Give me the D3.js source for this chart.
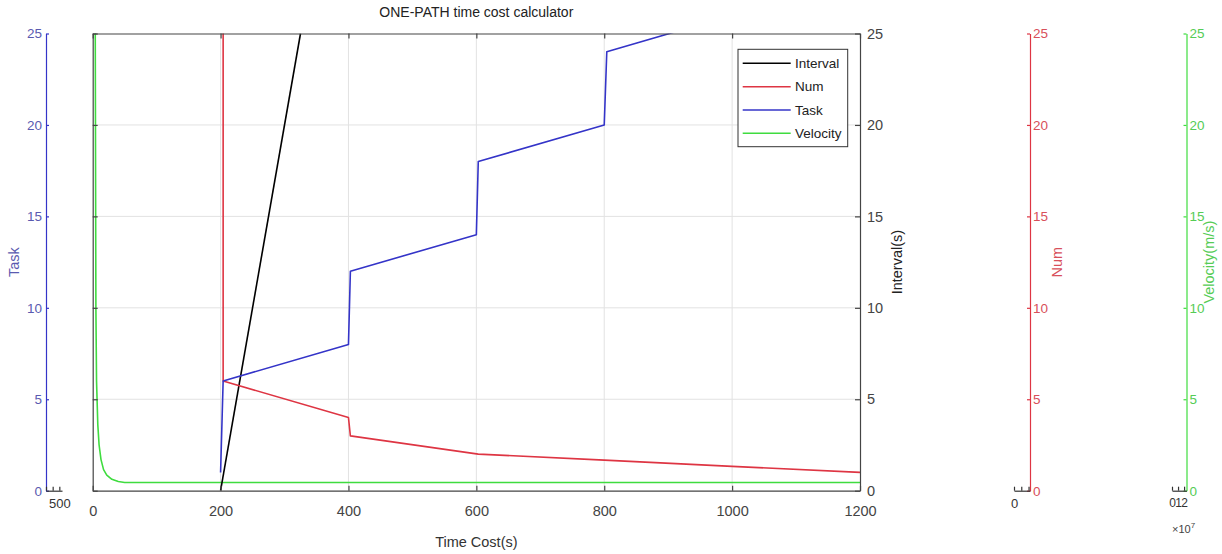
<!DOCTYPE html>
<html>
<head>
<meta charset="utf-8">
<script src="https://cdn.jsdelivr.net/npm/d3@7"></script>
<style>
  html, body { margin: 0; padding: 0; background: #fff; }
  svg { display: block; font-family: "Liberation Sans", Arial, sans-serif; }
</style>
</head>
<body>
<svg id="chart" width="1222" height="554"></svg>
<script>
// ---- data ----
const timeTicks = [0, 200, 400, 600, 800, 1000, 1200];
const valueTicks = [0, 5, 10, 15, 20, 25];

const intervalTime = [200, 325];
const intervalVal  = [0, 25];

const numTime = [204, 204, 400, 403, 603, 800, 1000, 1200];
const numVal  = [40, 6, 4, 3, 2, 1.67, 1.33, 1];

const taskTime = [200, 204, 400, 403, 600, 603, 800, 804, 1000];
const taskVal  = [1, 6, 8, 12, 14, 18, 20, 24, 26];

const velTime = [3, 4, 5, 6, 8, 10, 13, 17, 22, 30, 40, 50, 1200];
const velVal  = [40, 25, 10, 6, 3.6, 2.5, 1.7, 1.15, 0.85, 0.62, 0.5, 0.45, 0.45];

const seriesNames  = ["Interval", "Num", "Task", "Velocity"];
const seriesColors = ["#000000", "#de3543", "#3434c8", "#3fdc3f"];

// ---- layout ----
const svg = d3.select("#chart");
const L = 92.7, R = 860, T = 33.5, B = 490.7;
const x = d3.scaleLinear().domain([0, 1200]).range([L, R]);
const y = d3.scaleLinear().domain([0, 25]).range([B, T]);

const fs = 14.5;

// grid
const grid = svg.append("g");
grid.selectAll("line.gx").data(timeTicks.slice(1, -1)).join("line")
  .attr("x1", d => x(d)).attr("x2", d => x(d)).attr("y1", T).attr("y2", B)
  .attr("stroke", "#e2e2e2").attr("stroke-width", 1);
grid.selectAll("line.gy").data(valueTicks.slice(1, -1)).join("line")
  .attr("x1", L).attr("x2", R).attr("y1", d => y(d)).attr("y2", d => y(d))
  .attr("stroke", "#e2e2e2").attr("stroke-width", 1);

// clipped series
svg.append("clipPath").attr("id", "plotClip")
  .append("rect").attr("x", L).attr("y", T).attr("width", R - L).attr("height", B - T);

const line = d3.line().x(d => x(d[0])).y(d => y(d[1]));
const plot = svg.append("g").attr("clip-path", "url(#plotClip)");
const series = [
  d3.zip(intervalTime, intervalVal),
  d3.zip(numTime, numVal),
  d3.zip(taskTime, taskVal),
  d3.zip(velTime, velVal)
];
// draw order: green underneath
[3, 0, 1, 2].forEach(i => {
  plot.append("path").attr("d", line(series[i]))
    .attr("fill", "none").attr("stroke", seriesColors[i]).attr("stroke-width", 1.6)
    .attr("stroke-linejoin", "round");
});

// ---- main axes ----
const axisStyle = (g, col) => {
  g.select(".domain").attr("stroke", col).attr("stroke-width", 1.2);
  g.selectAll(".tick line").attr("stroke", col).attr("stroke-width", 1.2);
  g.selectAll(".tick text").attr("fill", col).attr("font-size", fs).attr("font-family", "Liberation Sans, Arial, sans-serif");
};

const xb = svg.append("g").attr("transform", `translate(0,${B})`)
  .call(d3.axisBottom(x).tickValues(timeTicks).tickFormat(d3.format("d"))
    .tickSize(-5).tickSizeOuter(0).tickPadding(15));
axisStyle(xb, "#444");

const xt = svg.append("g").attr("transform", `translate(0,${T})`)
  .call(d3.axisTop(x).tickValues(timeTicks).tickSize(-5).tickSizeOuter(0).tickFormat(""));
axisStyle(xt, "#444");

const yl = svg.append("g").attr("transform", `translate(${L},0)`)
  .call(d3.axisLeft(y).tickValues(valueTicks).tickSize(-5).tickSizeOuter(0).tickFormat(""));
axisStyle(yl, "#444");

const yr = svg.append("g").attr("transform", `translate(${R},0)`)
  .call(d3.axisRight(y).tickValues(valueTicks).tickSize(-5).tickSizeOuter(0).tickPadding(7));
axisStyle(yr, "#444");

svg.append("text").attr("x", (L + R) / 2).attr("y", 547).attr("text-anchor", "middle")
  .attr("font-size", fs).attr("fill", "#333").text("Time Cost(s)");
svg.append("text").attr("transform", `translate(902,${(T + B) / 2}) rotate(-90)`)
  .attr("text-anchor", "middle").attr("font-size", fs).attr("fill", "#222").text("Interval(s)");
svg.append("text").attr("x", (L + R) / 2).attr("y", 17).attr("text-anchor", "middle")
  .attr("font-size", 14).attr("fill", "#222").text("ONE-PATH time cost calculator");

// ---- offset axes (Task, Num, Velocity) ----
function offsetAxis(xPos, side, col, textCol, label, labelX, miniDomain, miniTicks, miniFmt, miniX0, miniX1) {
  const g = svg.append("g").attr("transform", `translate(${xPos},0)`);
  const ax = side === "left"
    ? d3.axisLeft(y).tickValues(valueTicks).tickSize(-3).tickSizeOuter(0).tickPadding(4)
    : d3.axisRight(y).tickValues(valueTicks).tickSize(-3).tickSizeOuter(0).tickPadding(3);
  g.call(ax);
  axisStyle(g, col);
  g.selectAll(".tick text").attr("fill", textCol).attr("font-size", 13.5);
  svg.append("text").attr("transform", `translate(${labelX},${(T + B) / 2}) rotate(-90)`)
    .attr("text-anchor", "middle").attr("font-size", fs).attr("fill", textCol).text(label);
  // small companion x axis at the foot
  const mx = d3.scaleLinear().domain(miniDomain).range([miniX0, miniX1]);
  const mg = svg.append("g").attr("transform", `translate(0,${B})`)
    .call(d3.axisBottom(mx).tickValues(miniTicks).tickSize(-4).tickSizeOuter(0).tickPadding(8).tickFormat(miniFmt));
  axisStyle(mg, "#333");
  mg.selectAll(".tick text").attr("font-size", 13);
  return mg;
}

offsetAxis(46, "left", "#3434c8", "#5a5ab0", "Task", 19,
  [0, 600], [0, 250, 500], d => d === 500 ? "500" : "", 46, 62);
offsetAxis(1030, "right", "#de3543", "#d8505a", "Num", 1062,
  [0, 2.2], [0, 1, 2], d => d === 0 ? "0" : "", 1014, 1030);
const vg = offsetAxis(1186.5, "right", "#3fdc3f", "#55cc55", "Velocity(m/s)", 1214,
  [0, 2.4e7], [0, 1e7, 2e7], d => String(d / 1e7), 1172, 1186.5);
vg.selectAll(".tick text").attr("font-size", 12);
const expo = svg.append("text").attr("x", 1172).attr("y", 533).attr("font-size", 11).attr("fill", "#444");
expo.append("tspan").text("×10");
expo.append("tspan").attr("dy", -5).attr("font-size", 8).text("7");

// ---- legend ----
const lg = svg.append("g");
lg.append("rect").attr("x", 738).attr("y", 49.3).attr("width", 109.7).attr("height", 97.4)
  .attr("fill", "#fff").attr("stroke", "#333").attr("stroke-width", 1);
const ly = [63.3, 86.7, 110, 133.3];
seriesNames.forEach((n, i) => {
  lg.append("line").attr("x1", 742.7).attr("x2", 790.7).attr("y1", ly[i]).attr("y2", ly[i])
    .attr("stroke", seriesColors[i]).attr("stroke-width", 1.6);
  lg.append("text").attr("x", 795).attr("y", ly[i]).attr("dy", "0.35em")
    .attr("font-size", 13.5).attr("fill", "#222").text(n);
});
</script>
</body>
</html>
